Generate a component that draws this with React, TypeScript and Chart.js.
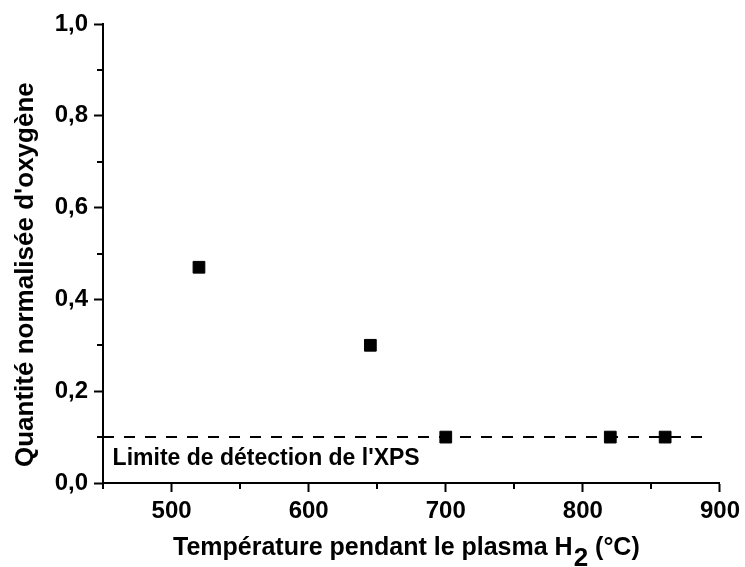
import React, { useEffect, useRef } from "react";
import { Chart, registerables } from "chart.js";

Chart.register(...registerables);

// Measured samples: H2 plasma temperature (°C) vs normalised oxygen amount
const temperature = [520, 645, 700, 820, 860];
const oxygenAmount = [0.47, 0.3, 0.1, 0.1, 0.1];

// XPS detection limit, drawn as a dashed horizontal line
const detectionLimit = 0.1;
const detectionSpan = [450, 887];
const detectionLabel = "Limite de détection de l'XPS";
const detectionLabelAnchor = [457, 0.04];

// Axis ranges and ticks
const xRange = [450, 900];
const yRange = [0, 1];
const xMajorTicks = [500, 600, 700, 800, 900];
const xMinorTicks = [450, 550, 650, 750, 850];
const yMajorTicks = [0, 0.2, 0.4, 0.6, 0.8, 1.0];
const yMinorTicks = [0.1, 0.3, 0.5, 0.7, 0.9];

const yTitle = "Quantité normalisée d'oxygène";
const xTitleMain = "Température pendant le plasma H";
const xTitleSub = "2";
const xTitleTail = " (°C)";

const FAMILY = "'Liberation Sans', Arial, Helvetica, sans-serif";
const INK = "#000000";

const decoration = {
  id: "decoration",
  afterDraw(chart: any) {
    const { ctx, chartArea, scales } = chart;
    const xs = scales.x;
    const ys = scales.y;
    ctx.save();
    ctx.strokeStyle = INK;
    ctx.fillStyle = INK;
    ctx.lineWidth = 2;

    // minor tick marks
    ctx.beginPath();
    for (const v of xMinorTicks) {
      const px = Math.round(xs.getPixelForValue(v));
      ctx.moveTo(px, chartArea.bottom);
      ctx.lineTo(px, chartArea.bottom + 6);
    }
    for (const v of yMinorTicks) {
      const py = Math.round(ys.getPixelForValue(v));
      ctx.moveTo(chartArea.left - 6, py);
      ctx.lineTo(chartArea.left, py);
    }
    ctx.stroke();

    // detection limit caption
    ctx.font = `bold 23px ${FAMILY}`;
    ctx.textAlign = "left";
    ctx.textBaseline = "alphabetic";
    ctx.fillText(
      detectionLabel,
      xs.getPixelForValue(detectionLabelAnchor[0]),
      ys.getPixelForValue(detectionLabelAnchor[1])
    );

    // x axis title with subscript
    const baseY = chartArea.bottom + 72;
    let cx = chartArea.left + 70;
    ctx.font = `bold 25px ${FAMILY}`;
    ctx.fillText(xTitleMain, cx, baseY);
    cx += ctx.measureText(xTitleMain).width + 1;
    ctx.font = `bold 26px ${FAMILY}`;
    ctx.fillText(xTitleSub, cx, baseY + 11);
    cx += ctx.measureText(xTitleSub).width;
    ctx.font = `bold 25px ${FAMILY}`;
    ctx.fillText(xTitleTail, cx, baseY);

    // y axis title, rotated
    ctx.translate(33, chartArea.bottom - 16);
    ctx.rotate(-Math.PI / 2);
    ctx.font = `bold 26px ${FAMILY}`;
    ctx.textAlign = "left";
    ctx.fillText(yTitle, 0, 0);
    ctx.restore();
  },
};

export default function App() {
  const canvasRef = useRef<HTMLCanvasElement | null>(null);

  useEffect(() => {
    document.body.style.margin = "0";
    const canvas = canvasRef.current;
    if (!canvas) return;

    const points = temperature.map((t, i) => ({ x: t, y: oxygenAmount[i] }));
    const limitLine = detectionSpan.map((t) => ({ x: t, y: detectionLimit }));

    const tickFont = { size: 24, weight: "bold" as const, family: FAMILY };
    const gridOpts = {
      display: true,
      drawOnChartArea: false,
      drawTicks: true,
      tickLength: 9,
      tickWidth: 2,
      tickColor: INK,
    };

    const chart = new Chart(canvas, {
      type: "scatter",
      data: {
        datasets: [
          {
            label: "samples",
            data: points,
            pointStyle: "rect",
            pointRadius: 8.3,
            pointHoverRadius: 8.3,
            backgroundColor: INK,
            borderColor: INK,
            borderWidth: 1,
            showLine: false,
            order: 0,
            clip: false,
          },
          {
            label: "limit",
            data: limitLine,
            showLine: true,
            borderColor: INK,
            borderWidth: 2,
            borderDash: [11, 10],
            pointRadius: 0,
            pointHoverRadius: 0,
            order: 1,
            clip: false,
          },
        ],
      },
      options: {
        responsive: false,
        animation: false,
        events: [],
        layout: { padding: { top: 24, right: 22, left: 0, bottom: 0 } },
        plugins: {
          legend: { display: false },
          tooltip: { enabled: false },
          title: { display: false },
        },
        scales: {
          x: {
            type: "linear",
            min: xRange[0],
            max: xRange[1],
            afterBuildTicks: (s: any) => {
              s.ticks = xMajorTicks.map((v) => ({ value: v }));
            },
            afterFit: (s: any) => {
              s.height = 84;
            },
            grid: gridOpts,
            border: { display: true, color: INK, width: 2 },
            ticks: {
              color: INK,
              font: tickFont,
              padding: 5,
              maxRotation: 0,
              autoSkip: false,
              callback: (v: any) => String(v),
            },
            title: { display: false },
          },
          y: {
            type: "linear",
            min: yRange[0],
            max: yRange[1],
            afterBuildTicks: (s: any) => {
              s.ticks = yMajorTicks.map((v) => ({ value: v }));
            },
            afterFit: (s: any) => {
              s.width = 103;
            },
            grid: gridOpts,
            border: { display: true, color: INK, width: 2 },
            ticks: {
              color: INK,
              font: tickFont,
              padding: 6,
              autoSkip: false,
              callback: (v: any) => Number(v).toFixed(1).replace(".", ","),
            },
            title: { display: false },
          },
        },
      },
      plugins: [decoration],
    });

    return () => chart.destroy();
  }, []);

  return (
    <div style={{ position: "absolute", left: 0, top: 0, width: 745, height: 567, background: "#fff" }}>
      <canvas ref={canvasRef} width={745} height={567} />
    </div>
  );
}
